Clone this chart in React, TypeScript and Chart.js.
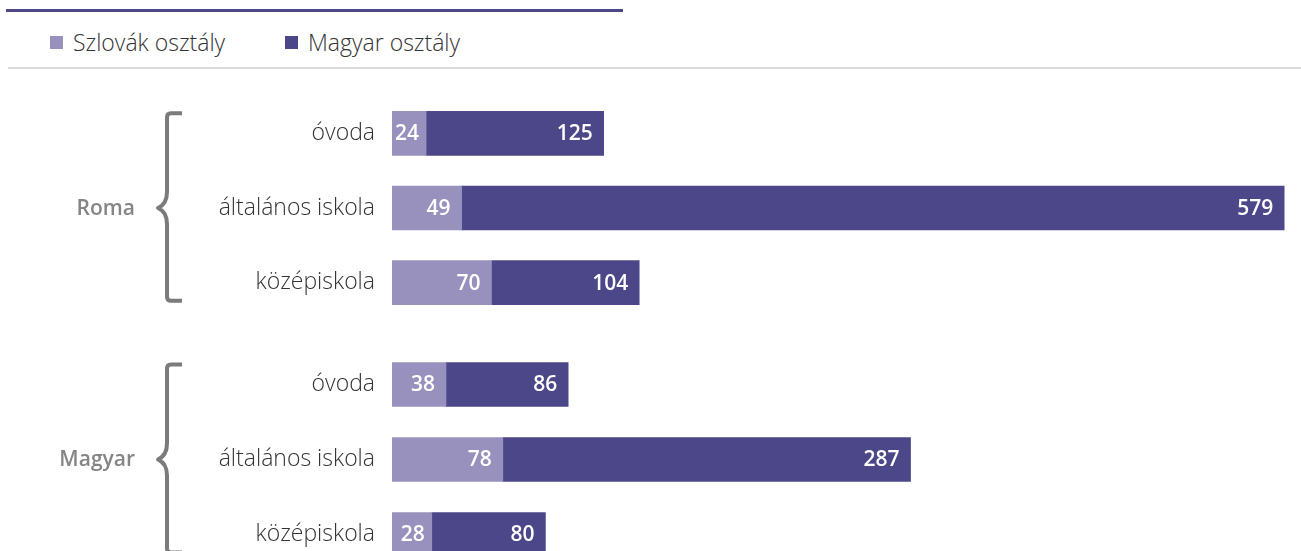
import React, { useEffect, useRef } from "react";
import { Chart, registerables } from "chart.js";

Chart.register(...registerables);

const categories = ["óvoda", "általános iskola", "középiskola"];
const groupNames = ["Roma", "Magyar"];
const seriesNames = ["Szlovák osztály", "Magyar osztály"];
const seriesColors = ["#9891bd", "#4c4788"];
const romaSzlovak = [24, 49, 70];
const romaMagyar = [125, 579, 104];
const magyarSzlovak = [38, 78, 28];
const magyarMagyar = [86, 287, 80];
const xMax = 630;

const FONT = "'Open Sans', 'Noto Sans', sans-serif";

function makePlugin(groupLabel: string) {
  return {
    id: "groupDecor",
    afterDatasetsDraw(chart: any) {
      const ctx = chart.ctx;
      ctx.save();
      ctx.fillStyle = "#ffffff";
      ctx.font = `600 21px ${FONT}`;
      ctx.textAlign = "right";
      ctx.textBaseline = "middle";
      chart.data.datasets.forEach((ds: any, di: number) => {
        const meta = chart.getDatasetMeta(di);
        meta.data.forEach((bar: any, i: number) => {
          const w = Math.abs(bar.x - bar.base);
          const pad = w < 45 ? 7 : 11;
          ctx.fillText(String(ds.data[i]), bar.x - pad, bar.y + 1);
        });
      });
      ctx.restore();
    },
    afterDraw(chart: any) {
      const ctx = chart.ctx;
      const y = chart.scales.y;
      const labels = chart.data.labels as string[];
      const n = labels.length;
      ctx.save();
      // category labels
      ctx.fillStyle = "#333333";
      ctx.font = `300 23px ${FONT}`;
      ctx.textAlign = "right";
      ctx.textBaseline = "middle";
      labels.forEach((lab, i) => {
        ctx.fillText(lab, chart.chartArea.left - 17, y.getPixelForValue(i));
      });
      // brace
      const top = y.getPixelForValue(0) - 20;
      const bottom = y.getPixelForValue(n - 1) + 18;
      const mid = y.getPixelForValue(Math.floor(n / 2));
      ctx.strokeStyle = "#7b7b7b";
      ctx.lineWidth = 4;
      ctx.lineJoin = "round";
      ctx.beginPath();
      ctx.moveTo(182, top);
      ctx.lineTo(171, top);
      ctx.quadraticCurveTo(167, top, 167, top + 4);
      ctx.lineTo(167, mid - 16);
      ctx.quadraticCurveTo(167, mid - 4, 158, mid);
      ctx.quadraticCurveTo(167, mid + 4, 167, mid + 16);
      ctx.lineTo(167, bottom - 4);
      ctx.quadraticCurveTo(167, bottom, 171, bottom);
      ctx.lineTo(182, bottom);
      ctx.stroke();
      // group label
      ctx.fillStyle = "#858585";
      ctx.font = `600 21px ${FONT}`;
      ctx.fillText(groupLabel, 135, mid + 1);
      ctx.restore();
    },
  };
}

function GroupChart(props: { label: string; szlovak: number[]; magyar: number[]; top: number; height: number }) {
  const ref = useRef<HTMLCanvasElement>(null);
  useEffect(() => {
    if (!ref.current) return;
    const chart = new Chart(ref.current, {
      type: "bar",
      data: {
        labels: categories,
        datasets: [
          { label: seriesNames[0], data: props.szlovak, backgroundColor: seriesColors[0], borderWidth: 0, barThickness: 44 },
          { label: seriesNames[1], data: props.magyar, backgroundColor: seriesColors[1], borderWidth: 0, barThickness: 44 },
        ],
      },
      options: {
        indexAxis: "y",
        responsive: false,
        animation: false,
        layout: { padding: { left: 0, right: 14, top: 0, bottom: 0 } },
        plugins: { legend: { display: false }, tooltip: { enabled: false } },
        scales: {
          x: { stacked: true, min: 0, max: xMax, display: false },
          y: {
            stacked: true,
            grid: { display: false, drawTicks: false },
            border: { display: false },
            ticks: { display: false },
            afterFit: (s: any) => {
              s.width = 392;
            },
          },
        },
      } as any,
      plugins: [makePlugin(props.label)],
    });
    return () => chart.destroy();
  }, []);
  return (
    <canvas
      ref={ref}
      width={1301}
      height={props.height}
      style={{ position: "absolute", left: 0, top: props.top, width: 1301, height: props.height }}
    />
  );
}

export default function App() {
  return (
    <div
      style={{
        position: "absolute",
        left: 0,
        top: 0,
        width: 1301,
        height: 551,
        overflow: "hidden",
        background: "#ffffff",
        fontFamily: FONT,
      }}
    >
      <div style={{ position: "absolute", left: 6, top: 9, width: 617, height: 3, background: "#4c4788" }} />
      <div style={{ position: "absolute", left: 8, top: 67, width: 1293, height: 2, background: "#d9d9d9" }} />
      {seriesNames.map((name, i) => (
        <div
          key={name}
          style={{
            position: "absolute",
            left: i === 0 ? 50 : 285,
            top: 27,
            height: 30,
            display: "flex",
            alignItems: "center",
            fontSize: 23,
            fontWeight: 300,
            color: "#333333",
            whiteSpace: "nowrap",
          }}
        >
          <span style={{ display: "inline-block", width: 13, height: 13, background: seriesColors[i], marginRight: 10 }} />
          <span>{name}</span>
        </div>
      ))}
      <GroupChart label={groupNames[0]} szlovak={romaSzlovak} magyar={romaMagyar} top={96} height={224} />
      <GroupChart label={groupNames[1]} szlovak={magyarSzlovak} magyar={magyarMagyar} top={347} height={225} />
    </div>
  );
}
